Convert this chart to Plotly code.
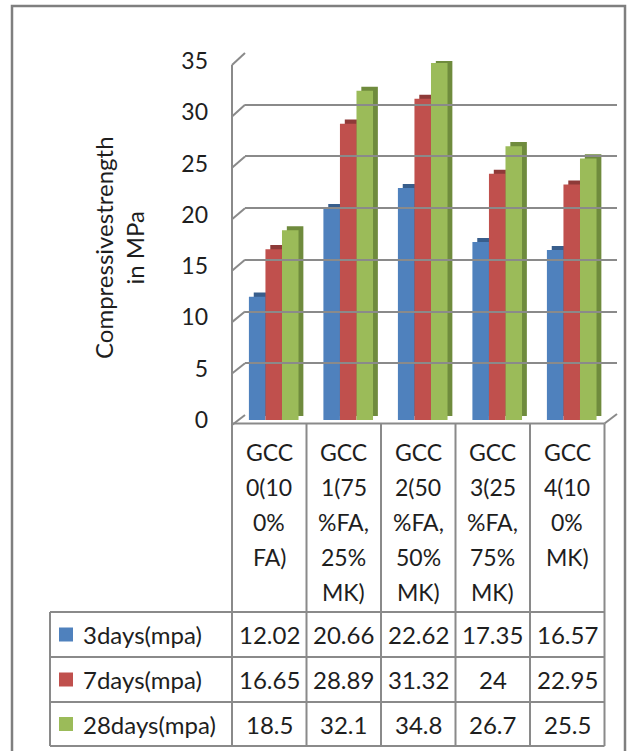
import plotly.graph_objects as go

# ---------------- data ----------------
categories = ["GCC 0(100% FA)", "GCC 1(75%FA, 25% MK)", "GCC 2(50%FA, 50% MK)",
              "GCC 3(25%FA, 75% MK)", "GCC 4(100% MK)"]
category_label_lines = [
    ["GCC", "0(10", "0%", "FA)"],
    ["GCC", "1(75", "%FA,", "25%", "MK)"],
    ["GCC", "2(50", "%FA,", "50%", "MK)"],
    ["GCC", "3(25", "%FA,", "75%", "MK)"],
    ["GCC", "4(10", "0%", "MK)"],
]
series_names = ["3days(mpa)", "7days(mpa)", "28days(mpa)"]
days3 = [12.02, 20.66, 22.62, 17.35, 16.57]
days7 = [16.65, 28.89, 31.32, 24, 22.95]
days28 = [18.5, 32.1, 34.8, 26.7, 25.5]
series_values = [days3, days7, days28]
y_ticks = [0, 5, 10, 15, 20, 25, 30, 35]
y_title = "Compressivestrength<br>in MPa"

# ---------------- style ----------------
W, H = 628, 751
front_colors = ["#4F81BD", "#C0504D", "#9BBB59"]
side_colors = ["#385E8C", "#8E3A38", "#6F8B3D"]
grid_color = "#8a8a8a"
text_color = "#1e1e1e"
FONT = "Lato"


def px(x):
    return x / W


def py(y):
    return 1 - y / H


# geometry (pixels)
X0, X1 = 232, 604.5          # front of category axis / table columns
BX0, BX1 = 245, 617          # back wall
BAR_ZERO, BAR_TOP = 420, 61  # bar scale (0 .. 35)
BACK_ZERO, BACK_TOP = 415, 53
LAB_ZERO, LAB_TOP = 425, 65
YMAX = 35
TABLE_LEFT = 50
ROW_LINES = [612, 657, 702, 746]
HEADER_FIRST = 452
HEADER_STEP = 35

n = len(categories)
bar_w = 0.222
offsets = [-0.273, -0.051, 0.171]
depth_dx = 0.065
depth_dz = 0.4

fig = go.Figure()

# depth (side/top faces)
for s in range(3):
    fig.add_trace(go.Bar(
        x=list(range(n)), y=series_values[s], base=depth_dz,
        width=bar_w, offset=offsets[s] + depth_dx,
        marker=dict(color=side_colors[s], line=dict(width=0)),
        showlegend=False, hoverinfo="skip"))
# front faces
for s in range(3):
    fig.add_trace(go.Bar(
        x=list(range(n)), y=series_values[s], name=series_names[s],
        width=bar_w, offset=offsets[s],
        marker=dict(color=front_colors[s], line=dict(width=0)),
        showlegend=False))

# invisible traces so that helper axes are drawn
fig.add_trace(go.Scatter(x=[0], y=[0], xaxis="x2", yaxis="y2", mode="markers",
                         marker=dict(opacity=0), showlegend=False, hoverinfo="skip"))
fig.add_trace(go.Scatter(x=[0], y=[0], xaxis="x", yaxis="y3", mode="markers",
                         marker=dict(opacity=0), showlegend=False, hoverinfo="skip"))

fig.update_layout(
    width=W, height=H,
    margin=dict(l=0, r=0, t=0, b=0, autoexpand=False),
    paper_bgcolor="white", plot_bgcolor="rgba(0,0,0,0)",
    barmode="overlay",
    font=dict(family=FONT, color=text_color),
    xaxis=dict(domain=[px(X0), px(X1)], range=[-0.5, n - 0.5],
               showticklabels=False, showgrid=False, zeroline=False,
               showline=False, ticks="", automargin=False),
    yaxis=dict(domain=[py(BAR_ZERO), py(BAR_TOP)], range=[0, YMAX],
               showticklabels=False, showgrid=False, zeroline=False,
               showline=False, ticks="", automargin=False),
    xaxis2=dict(domain=[px(BX0), px(BX1)], range=[0, 1], anchor="y2",
                showticklabels=False, showgrid=False, zeroline=False,
                showline=False, ticks="", automargin=False),
    yaxis2=dict(domain=[py(BACK_ZERO), py(BACK_TOP)], range=[0, YMAX], anchor="x2",
                tickvals=y_ticks, showticklabels=False, showgrid=True,
                gridcolor=grid_color, gridwidth=2, zeroline=False,
                showline=False, ticks="", automargin=False),
    yaxis3=dict(domain=[py(LAB_ZERO), py(LAB_TOP)], range=[0, YMAX],
                anchor="free", position=px(X0), overlaying="y",
                tickvals=y_ticks, ticktext=[str(t) for t in y_ticks],
                showgrid=False, zeroline=False, showline=False, ticks="",
                ticklabelstandoff=24, automargin=False,
                tickfont=dict(family=FONT, size=23, color=text_color)),
)

shapes = []
line = dict(color=grid_color, width=2)


def front_y(v):
    return LAB_ZERO - v / YMAX * (LAB_ZERO - LAB_TOP)


def back_y(v):
    return BACK_ZERO - v / YMAX * (BACK_ZERO - BACK_TOP)


# left wall diagonals
for v in y_ticks:
    shapes.append(dict(type="line", xref="paper", yref="paper",
                       x0=px(X0), y0=py(front_y(v)), x1=px(BX0), y1=py(back_y(v)),
                       line=line))
# front-left vertical edge (continues into the table)
shapes.append(dict(type="line", xref="paper", yref="paper",
                   x0=px(X0), y0=py(front_y(YMAX)), x1=px(X0), y1=py(ROW_LINES[-1]),
                   line=line))
# floor front edge and right diagonal
floor_front = 423.5
shapes.append(dict(type="line", xref="paper", yref="paper",
                   x0=px(X0), y0=py(floor_front), x1=px(X1), y1=py(floor_front), line=line))
shapes.append(dict(type="line", xref="paper", yref="paper",
                   x0=px(X1), y0=py(floor_front), x1=px(BX1), y1=py(BACK_ZERO - 1), line=line))

# table column lines
col_w = (X1 - X0) / n
for k in range(1, n + 1):
    xk = X0 + k * col_w
    shapes.append(dict(type="line", xref="paper", yref="paper",
                       x0=px(xk), y0=py(floor_front), x1=px(xk), y1=py(ROW_LINES[-1]),
                       line=line))
# table row lines
for yl in ROW_LINES:
    shapes.append(dict(type="line", xref="paper", yref="paper",
                       x0=px(TABLE_LEFT), y0=py(yl), x1=px(X1), y1=py(yl), line=line))
shapes.append(dict(type="line", xref="paper", yref="paper",
                   x0=px(TABLE_LEFT), y0=py(ROW_LINES[0]), x1=px(TABLE_LEFT),
                   y1=py(ROW_LINES[-1]), line=line))

# legend keys
for s in range(3):
    yc = (ROW_LINES[s] + ROW_LINES[s + 1]) / 2
    shapes.append(dict(type="rect", xref="paper", yref="paper",
                       x0=px(59), x1=px(73), y0=py(yc + 7), y1=py(yc - 7),
                       fillcolor=front_colors[s], line=dict(width=0)))

# outer frame
shapes.append(dict(type="rect", xref="paper", yref="paper",
                   x0=px(12), x1=px(625), y0=py(6), y1=py(H + 20),
                   line=dict(color="#7f7f7f", width=2.5), fillcolor="rgba(0,0,0,0)"))

annotations = []
# header (category) labels
for i, lines in enumerate(category_label_lines):
    for j, t in enumerate(lines):
        annotations.append(dict(x=i, xref="x", y=py(HEADER_FIRST + j * HEADER_STEP),
                                yref="paper", text=t, showarrow=False,
                                xanchor="center", yanchor="middle",
                                font=dict(family=FONT, size=23, color=text_color)))
# table rows
for s in range(3):
    yc = (ROW_LINES[s] + ROW_LINES[s + 1]) / 2
    annotations.append(dict(x=px(81), xref="paper", y=py(yc), yref="paper",
                            text=series_names[s], showarrow=False,
                            xanchor="left", yanchor="middle",
                            font=dict(family=FONT, size=24, color=text_color)))
    for i, v in enumerate(series_values[s]):
        annotations.append(dict(x=i, xref="x", y=py(yc), yref="paper",
                                text=f"{v:g}", showarrow=False,
                                xanchor="center", yanchor="middle",
                                font=dict(family=FONT, size=24, color=text_color)))
# y-axis title
annotations.append(dict(x=px(119), xref="paper", y=py(248), yref="paper",
                        text=y_title, textangle=-90, showarrow=False,
                        xanchor="center", yanchor="middle",
                        font=dict(family=FONT, size=24, color=text_color)))

fig.update_layout(shapes=shapes, annotations=annotations)

fig.write_html("out.html",
               config={"displayModeBar": False},
               post_script="document.body.style.margin='0';"
                           "document.documentElement.style.overflow='hidden';")
